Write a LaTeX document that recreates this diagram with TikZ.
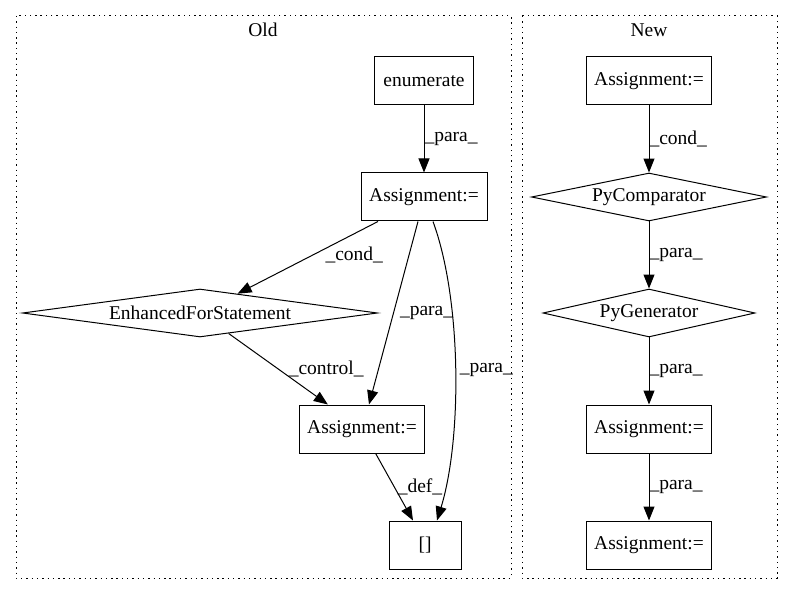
\documentclass[tikz,border=0pt]{standalone}
\usepackage{fontspec}
\setmainfont{Liberation Serif}
\usetikzlibrary{shapes.geometric,arrows.meta}

\begin{document}
\begin{tikzpicture}[x=1pt,y=-1pt,font=\fontsize{19.5}{23}\selectfont,
    cluster/.style={line width=1pt,dash pattern=on 1.4pt off 3.9pt},
    lbl/.style={inner sep=0pt,anchor=west}]
        \useasboundingbox (0,0) rectangle (793,596);
        \draw[cluster] (16,16) rectangle (511,578);
        \draw[cluster] (522,16) rectangle (777,578);
        \node (old) at (263,30) {Old};
        \node (new) at (649,30) {New};
        \begin{scope}[every node/.style={draw,line width=1pt,minimum height=48pt,inner sep=0pt}]
          \node[rectangle,minimum width=99pt] (enum) at (424,81) {enumerate};
          \node[rectangle,minimum width=126pt] (a1) at (424,197) {Assignment:=};
          \node[diamond,shape aspect=7.4,minimum width=355pt] (efor) at (200,313) {EnhancedForStatement};
          \node[rectangle,minimum width=125pt] (a2) at (362,429) {Assignment:=};
          \node[rectangle,minimum width=72pt] (idx) at (425,545) {[]};
          
          \node[rectangle,minimum width=125pt] (b1) at (649,81) {Assignment:=};
          \node[diamond,shape aspect=4.9,minimum width=235pt] (cmp) at (649,197) {PyComparator};
          \node[diamond,shape aspect=4.4,minimum width=212pt] (gen) at (649,313) {PyGenerator};
          \node[rectangle,minimum width=125pt] (b2) at (649,429) {Assignment:=};
          \node[rectangle,minimum width=125pt] (b3) at (649,545) {Assignment:=};
        \end{scope}
        \begin{scope}[every edge/.style={draw=black,line width=1pt,-{Triangle[length=14pt,width=11pt]}}]
          \path (enum) edge node[lbl] {\_para\_} (a1);
          \path ([xshift=-46pt]a1.south) edge node[lbl,pos=.47,xshift=13pt] {\_cond\_} (efor);
          \path ([xshift=-6pt]a1.south) edge node[lbl,xshift=6pt] {\_para\_} ([xshift=7pt]a2.north);
          \path (efor) edge node[lbl,xshift=10pt] {\_control\_} (a2);
          \path (a2) edge node[lbl,xshift=3pt] {\_def\_} ([xshift=-12pt]idx.north);
          \path (b1) edge node[lbl] {\_cond\_} (cmp);
          \path (cmp) edge node[lbl] {\_para\_} (gen);
          \path (gen) edge node[lbl] {\_para\_} (b2);
          \path (b2) edge node[lbl] {\_para\_} (b3);
        \end{scope}
        \draw[line width=1pt,-{Triangle[length=14pt,width=11pt]}] ([xshift=9pt]a1.south)
          .. controls +(29,79) and +(25,-81) .. node[lbl,xshift=4pt] {\_para\_} ([xshift=12pt]idx.north);
\end{tikzpicture}
\end{document}
